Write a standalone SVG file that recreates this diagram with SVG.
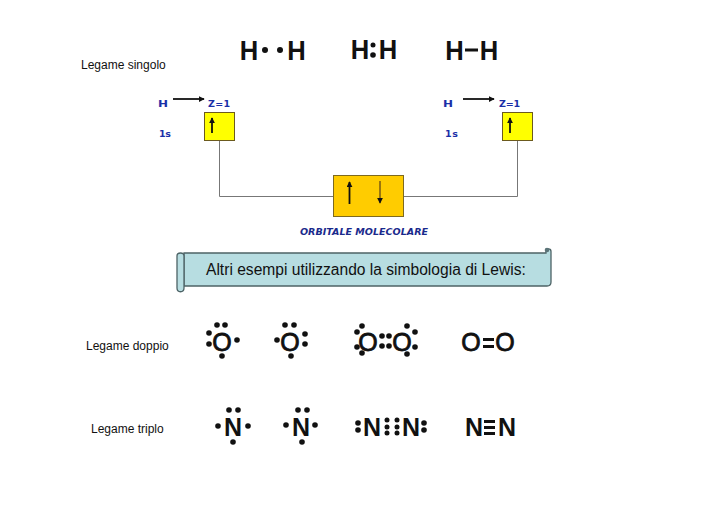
<svg xmlns="http://www.w3.org/2000/svg" width="728" height="514" viewBox="0 0 728 514">
<style>
.lab{font-family:"Liberation Sans",Arial,sans-serif;font-size:12px;fill:#111}
.big{font-family:"Liberation Sans",Arial,sans-serif;font-weight:bold;font-size:28px;fill:#111;text-anchor:middle}
.lew{font-family:"Liberation Sans",Arial,sans-serif;font-size:25px;fill:#111;text-anchor:middle;stroke:#111;stroke-width:.8}
.nit{font-family:"Liberation Sans",Arial,sans-serif;font-weight:bold;font-size:25px;fill:#111;text-anchor:middle}
.blue{font-family:"DejaVu Sans",sans-serif;font-weight:bold;font-size:9.5px;fill:#1a2fa8}
.box{fill:#ffff00;stroke:#6b5a1e;stroke-width:1}
.gold{fill:#ffcc00;stroke:#7d6a20;stroke-width:1}
.ln{fill:none;stroke:#777;stroke-width:1}
.ar{fill:none;stroke:#111;stroke-width:1.800}
.d{fill:#111}
</style>
<defs>
<marker id="ah" viewBox="0 0 8 8" refX="7" refY="4" markerWidth="6" markerHeight="6" markerUnits="userSpaceOnUse" orient="auto"><path d="M0 0L8 4L0 8Z" fill="#111"/></marker>
<marker id="ab" viewBox="0 0 8 8" refX="7" refY="4" markerWidth="6" markerHeight="6" markerUnits="userSpaceOnUse" orient="auto"><path d="M0 0L8 4L0 8Z" fill="#111"/></marker>
</defs>
<g id="connectors">
<path class="ln" d="M219.500 141V196.500H333"/>
<path class="ln" d="M403 196.500H517.500V141"/>
<path class="ar" d="M173 99H204" marker-end="url(#ab)"/>
<path class="ar" d="M463 99H494" marker-end="url(#ab)"/>
</g>
<g id="label-singolo"><text class="lab" x="81" y="69">Legame singolo</text></g>
<g id="label-doppio"><text class="lab" x="86" y="350">Legame doppio</text></g>
<g id="label-triplo"><text class="lab" x="91" y="433">Legame triplo</text></g>
<g id="h-dots"><text class="big" x="249" y="60" textLength="18.500" lengthAdjust="spacingAndGlyphs">H</text><text class="big" x="296.500" y="60" textLength="18.500" lengthAdjust="spacingAndGlyphs">H</text><circle class="d" cx="265" cy="50" r="3"/><circle class="d" cx="280" cy="50" r="3"/></g>
<g id="h-pair"><text class="big" x="360" y="59" textLength="18.500" lengthAdjust="spacingAndGlyphs">H</text><text class="big" x="388" y="59" textLength="18.500" lengthAdjust="spacingAndGlyphs">H</text><circle class="d" cx="373" cy="45" r="2.500"/><circle class="d" cx="373" cy="55" r="2.800"/></g>
<g id="h-bond"><text class="big" x="454.500" y="60" textLength="18.500" lengthAdjust="spacingAndGlyphs">H</text><text class="big" x="489" y="60" textLength="18.500" lengthAdjust="spacingAndGlyphs">H</text><rect class="d" x="465" y="48.500" width="13" height="3"/></g>
<g id="h-left"><text class="blue" x="158" y="107" textLength="10" lengthAdjust="spacingAndGlyphs">H</text><text class="blue" x="208" y="107" textLength="22" lengthAdjust="spacing">Z=1</text><text class="blue" x="159" y="137" textLength="12" lengthAdjust="spacing">1s</text><rect class="box" x="204.500" y="112.500" width="30" height="28"/><path class="ar" d="M212 133V118" marker-end="url(#ah)"/></g>
<g id="h-right"><text class="blue" x="443" y="107" textLength="10" lengthAdjust="spacingAndGlyphs">H</text><text class="blue" x="499" y="107" textLength="21" lengthAdjust="spacing">Z=1</text><text class="blue" x="445" y="137" textLength="13" lengthAdjust="spacing">1s</text><rect class="box" x="502.500" y="112.500" width="30" height="28"/><path class="ar" d="M510 133V118" marker-end="url(#ah)"/></g>
<g id="orbitale"><rect class="gold" x="333.500" y="175.500" width="70" height="41"/><path class="ar" d="M349.500 204V182" marker-end="url(#ab)"/><path d="M380 181V203" fill="none" stroke="#7a5a10" stroke-width="1.500" marker-end="url(#ab)"/><text x="300" y="235" textLength="128" lengthAdjust="spacingAndGlyphs" style="font-family:'DejaVu Sans',sans-serif;font-weight:bold;font-style:italic;font-size:9.500px;fill:#1a2a8c">ORBITALE MOLECOLARE</text></g>
<g id="scroll">
<path d="M184 253H546V251.500C546 248 551 248 551 251.500V282C551 285 549 286 547 286H184Z" fill="#b7dde1" stroke="#4d6366" stroke-width="1.300"/>
<path d="M177 256C177 252 184 252 184 256V288C184 293 177 293 177 288Z" fill="#b7dde1" stroke="#4d6366" stroke-width="1.300"/>
<circle cx="547" cy="250" r="2.300" fill="#5b7478"/>
<text x="206" y="275" style="font-family:'Liberation Sans',Arial,sans-serif;font-size:15.600px;fill:#111">Altri esempi utilizzando la simbologia di Lewis:</text>
</g>
<g id="o1"><text class="lew" x="222" y="351">O</text><circle class="d" cx="217" cy="325" r="2.800"/><circle class="d" cx="225" cy="325" r="2.800"/><circle class="d" cx="209" cy="333" r="2.800"/><circle class="d" cx="209" cy="344" r="2.800"/><circle class="d" cx="237" cy="340" r="2.800"/><circle class="d" cx="222" cy="356" r="2.800"/></g>
<g id="o2"><text class="lew" x="290" y="351">O</text><circle class="d" cx="285" cy="325" r="2.800"/><circle class="d" cx="294" cy="325" r="2.800"/><circle class="d" cx="277" cy="340" r="2.800"/><circle class="d" cx="305" cy="334" r="2.800"/><circle class="d" cx="305" cy="344" r="2.800"/><circle class="d" cx="291" cy="356" r="2.800"/></g>
<g id="o-o"><text class="lew" x="368" y="351">O</text><text class="lew" x="402" y="351">O</text>
<circle class="d" cx="362" cy="326" r="2.800"/><circle class="d" cx="357" cy="332" r="2.800"/><circle class="d" cx="357" cy="347" r="2.800"/><circle class="d" cx="362" cy="353" r="2.800"/>
<circle class="d" cx="382" cy="336" r="2.800"/><circle class="d" cx="389" cy="336" r="2.800"/><circle class="d" cx="382" cy="346" r="2.800"/><circle class="d" cx="389" cy="346" r="2.800"/>
<circle class="d" cx="407" cy="326" r="2.800"/><circle class="d" cx="415" cy="332" r="2.800"/><circle class="d" cx="415" cy="347" r="2.800"/><circle class="d" cx="407" cy="354" r="2.800"/></g>
<g id="o-bond"><text class="lew" x="471" y="351">O</text><text class="lew" x="505" y="351">O</text><rect class="d" x="483" y="338" width="11" height="3"/><rect class="d" x="483" y="345" width="11" height="3"/></g>
<g id="n1"><text class="nit" x="233" y="436">N</text><circle class="d" cx="229" cy="410" r="2.800"/><circle class="d" cx="238" cy="410" r="2.800"/><circle class="d" cx="218" cy="426" r="2.800"/><circle class="d" cx="248" cy="426" r="2.800"/><circle class="d" cx="233" cy="442" r="2.800"/></g>
<g id="n2"><text class="nit" x="301" y="436">N</text><circle class="d" cx="298" cy="410" r="2.800"/><circle class="d" cx="307" cy="410" r="2.800"/><circle class="d" cx="286" cy="425" r="2.800"/><circle class="d" cx="315" cy="425" r="2.800"/><circle class="d" cx="302" cy="442" r="2.800"/></g>
<g id="n-n"><text class="nit" x="372" y="436">N</text><text class="nit" x="411" y="436">N</text>
<circle class="d" cx="358" cy="423" r="2.800"/><circle class="d" cx="358" cy="430" r="2.800"/>
<circle class="d" cx="387" cy="420" r="2.500"/><circle class="d" cx="387" cy="427" r="2.500"/><circle class="d" cx="387" cy="433" r="2.500"/>
<circle class="d" cx="397" cy="420" r="2.500"/><circle class="d" cx="397" cy="427" r="2.500"/><circle class="d" cx="397" cy="433" r="2.500"/>
<circle class="d" cx="424" cy="423" r="2.800"/><circle class="d" cx="424" cy="430" r="2.800"/></g>
<g id="n-bond"><text class="nit" x="474" y="436">N</text><text class="nit" x="507" y="436">N</text><rect class="d" x="484" y="420" width="11" height="3"/><rect class="d" x="484" y="426" width="11" height="3"/><rect class="d" x="484" y="432" width="11" height="3"/></g>
</svg>
